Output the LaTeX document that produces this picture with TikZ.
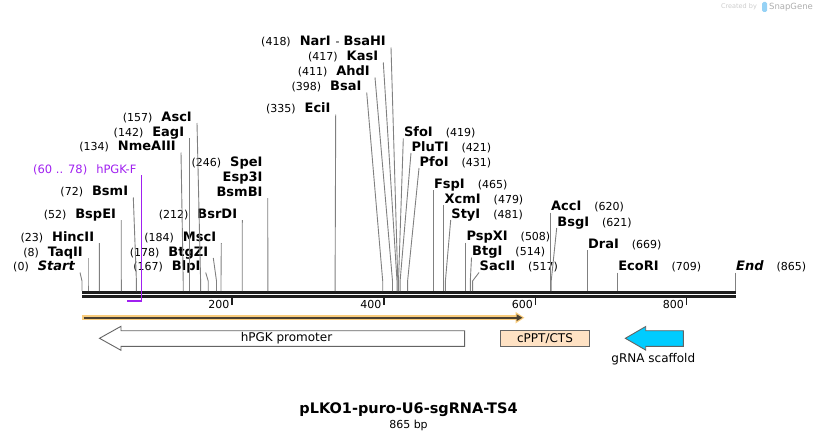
\documentclass[tikz,border=0pt]{standalone}
\usepackage{fontspec}
\setmainfont{DejaVu Sans}
\usetikzlibrary{arrows.meta}

\definecolor{cutgray}{RGB}{128,128,128}
\definecolor{primerpurple}{RGB}{160,32,240}
\definecolor{glow}{RGB}{250,205,125}
\definecolor{orfdark}{RGB}{75,65,50}
\definecolor{cpptfill}{RGB}{255,226,196}
\definecolor{scaffoldfill}{RGB}{0,204,255}
\definecolor{featline}{RGB}{100,100,100}
\definecolor{mapblack}{RGB}{30,30,30}

\newcommand{\nm}[1]{{\fontsize{13}{15}\selectfont\bfseries #1}}

\begin{document}
\begin{tikzpicture}[x=1pt,y=-1pt,
  labl/.style={anchor=south east, inner xsep=5pt, inner ysep=0pt,
    text height=9pt, text depth=1.5pt, font=\fontsize{11}{15}\selectfont},
  labr/.style={anchor=south west, inner xsep=0.5pt, inner ysep=0pt,
    text height=9pt, text depth=1.5pt, font=\fontsize{11}{15}\selectfont},
  cut/.style={draw=cutgray, line width=0.9pt},
  mapline/.style={draw=mapblack, line width=2.7pt},
  tick/.style={draw=mapblack, line width=1.5pt},
  ticklab/.style={anchor=east, inner sep=0pt, font=\fontsize{11}{13}\selectfont},
  feat/.style={draw=featline, line width=0.9pt},
  ftext/.style={inner sep=0pt, font=\fontsize{12}{14}\selectfont}]
\useasboundingbox (0,0) rectangle (818,441);

% watermark
\node[inner sep=0pt, text=black!20, font=\fontsize{6.5}{8}\selectfont] (made) at (739,7) {Created by};
\fill[rounded corners=1.5pt, color={rgb,255:red,150;green,210;blue,245}] (762,2) rectangle (767,12);
\node[inner sep=0pt, text=black!32, font=\fontsize{8.5}{10}\selectfont] (sg) at (791,7) {SnapGene};

% map
\coordinate (mapL) at (82,292.3);
\coordinate (mapR) at (735.7,292.3);
\draw[mapline] (mapL) -- (mapR);
\draw[mapline] ([yshift=-4pt]mapL) -- ([yshift=-4pt]mapR);

% ticks
\coordinate (t200) at (232,297.7);
\coordinate (t400) at (384,297.7);
\coordinate (t600) at (535.5,297.7);
\coordinate (t800) at (686.5,297.7);
\draw[tick] (t200) -- ++(0,7.5);
\draw[tick] (t400) -- ++(0,7.5);
\draw[tick] (t600) -- ++(0,7.5);
\draw[tick] (t800) -- ++(0,7.5);
\node[ticklab] (n200) at (229.5,304.5) {200};
\node[ticklab] (n400) at (381.5,304.5) {400};
\node[ticklab] (n600) at (533,304.5) {600};
\node[ticklab] (n800) at (684,304.5) {800};

% sites, left side
\node[labl] (Start) at (80,272.5) {(0)\hspace{9pt}\nm{\itshape Start}};
\node[labl] (TaqII) at (88,258) {(8)\hspace{9pt}\nm{TaqII}};
\node[labl] (HincII) at (99.3,243) {(23)\hspace{9pt}\nm{HincII}};
\node[labl] (BspEI) at (121.2,220) {(52)\hspace{9pt}\nm{BspEI}};
\node[labl] (BsmI) at (133.3,197.5) {(72)\hspace{9pt}\nm{BsmI}};
\node[labl] (NmeAIII) at (181,152.5) {(134)\hspace{9pt}\nm{NmeAIII}};
\node[labl] (EagI) at (189.3,138) {(142)\hspace{9pt}\nm{EagI}};
\node[labl] (AscI) at (197,123) {(157)\hspace{9pt}\nm{AscI}};
\node[labl] (BlpI) at (205.7,272.5) {(167)\hspace{9pt}\nm{BlpI}};
\node[labl] (BtgZI) at (213.3,258) {(178)\hspace{9pt}\nm{BtgZI}};
\node[labl] (MscI) at (221.3,243) {(184)\hspace{9pt}\nm{MscI}};
\node[labl] (BsrDI) at (242.3,220) {(212)\hspace{9pt}\nm{BsrDI}};
\node[labl] (SpeI) at (267.7,168) {(246)\hspace{9pt}\nm{SpeI}};
\node[labl] (Esp3I) at (267.7,183) {\nm{Esp3I}};
\node[labl] (BsmBI) at (267.7,198) {\nm{BsmBI}};
\node[labl] (EciI) at (335.7,114.5) {(335)\hspace{9pt}\nm{EciI}};
\node[labl] (BsaI) at (366.7,92.5) {(398)\hspace{9pt}\nm{BsaI}};
\node[labl] (AhdI) at (375,77.5) {(411)\hspace{9pt}\nm{AhdI}};
\node[labl] (KasI) at (383.3,62.5) {(417)\hspace{9pt}\nm{KasI}};
\node[labl] (NarI) at (391,47.5) {(418)\hspace{9pt}\nm{NarI}\hspace{5pt}-\hspace{4pt}\nm{BsaHI}};

% sites, right side
\node[labr] (SfoI) at (403.3,138.5) {\nm{SfoI}\hspace{13pt}(419)};
\node[labr] (PluTI) at (411,153) {\nm{PluTI}\hspace{13pt}(421)};
\node[labr] (PfoI) at (419,168) {\nm{PfoI}\hspace{13pt}(431)};
\node[labr] (FspI) at (433.3,190) {\nm{FspI}\hspace{13pt}(465)};
\node[labr] (XcmI) at (443.9,205) {\nm{XcmI}\hspace{13pt}(479)};
\node[labr] (StyI) at (450.7,220) {\nm{StyI}\hspace{13pt}(481)};
\node[labr] (PspXI) at (465.8,242.5) {\nm{PspXI}\hspace{13pt}(508)};
\node[labr] (BtgI) at (471.5,257.5) {\nm{BtgI}\hspace{13pt}(514)};
\node[labr] (SacII) at (479,272.5) {\nm{SacII}\hspace{13pt}(517)};
\node[labr] (AccI) at (550.4,212.5) {\nm{AccI}\hspace{13pt}(620)};
\node[labr] (BsgI) at (556.7,228) {\nm{BsgI}\hspace{13pt}(621)};
\node[labr] (DraI) at (587.4,250) {\nm{DraI}\hspace{13pt}(669)};
\node[labr] (EcoRI) at (617.6,272.5) {\nm{EcoRI}\hspace{13pt}(709)};
\node[labr] (End) at (735.5,272.5) {\nm{\itshape End}\hspace{13pt}(865)};

% cut positions on the map
\coordinate (Start-m) at (82,291);
\coordinate (TaqII-m) at (88,291);
\coordinate (HincII-m) at (99.4,291);
\coordinate (BspEI-m) at (121.3,291);
\coordinate (BsmI-m) at (136.4,291);
\coordinate (NmeAIII-m) at (183.2,291);
\coordinate (EagI-m) at (189.3,291);
\coordinate (AscI-m) at (200.6,291);
\coordinate (BlpI-m) at (208.2,291);
\coordinate (BtgZI-m) at (216.5,291);
\coordinate (MscI-m) at (221,291);
\coordinate (BsrDI-m) at (242.2,291);
\coordinate (BsmBI-m) at (267.9,291);
\coordinate (EciI-m) at (335.1,291);
\coordinate (BsaI-m) at (382.7,291);
\coordinate (AhdI-m) at (392.5,291);
\coordinate (KasI-m) at (397,291);
\coordinate (NarI-m) at (397.8,291);
\coordinate (SfoI-m) at (398.5,291);
\coordinate (PluTI-m) at (400.1,291);
\coordinate (PfoI-m) at (407.6,291);
\coordinate (FspI-m) at (433.3,291);
\coordinate (XcmI-m) at (443.9,291);
\coordinate (StyI-m) at (445.4,291);
\coordinate (PspXI-m) at (465.8,291);
\coordinate (BtgI-m) at (470.3,291);
\coordinate (SacII-m) at (472.6,291);
\coordinate (AccI-m) at (550.4,291);
\coordinate (BsgI-m) at (551.2,291);
\coordinate (DraI-m) at (587.4,291);
\coordinate (EcoRI-m) at (617.6,291);
\coordinate (End-m) at (735.5,291);

\draw[cut] (Start.south east) -- ([yshift=10pt]Start-m) -- (Start-m);
\draw[cut] (TaqII.south east) -- ([yshift=10pt]TaqII-m) -- (TaqII-m);
\draw[cut] (HincII.south east) -- ([yshift=10pt]HincII-m) -- (HincII-m);
\draw[cut] (BspEI.south east) -- ([yshift=10pt]BspEI-m) -- (BspEI-m);
\draw[cut] (BsmI.south east) -- ([yshift=10pt]BsmI-m) -- (BsmI-m);
\draw[cut] (NmeAIII.south east) -- ([yshift=10pt]NmeAIII-m) -- (NmeAIII-m);
\draw[cut] (EagI.south east) -- ([yshift=10pt]EagI-m) -- (EagI-m);
\draw[cut] (AscI.south east) -- ([yshift=10pt]AscI-m) -- (AscI-m);
\draw[cut] (BlpI.south east) -- ([yshift=10pt]BlpI-m) -- (BlpI-m);
\draw[cut] (BtgZI.south east) -- ([yshift=10pt]BtgZI-m) -- (BtgZI-m);
\draw[cut] (MscI.south east) -- ([yshift=10pt]MscI-m) -- (MscI-m);
\draw[cut] (BsrDI.south east) -- ([yshift=10pt]BsrDI-m) -- (BsrDI-m);
\draw[cut] (BsmBI.south east) -- ([yshift=10pt]BsmBI-m) -- (BsmBI-m);
\draw[cut] (EciI.south east) -- ([yshift=10pt]EciI-m) -- (EciI-m);
\draw[cut] (BsaI.south east) -- ([yshift=10pt]BsaI-m) -- (BsaI-m);
\draw[cut] (AhdI.south east) -- ([yshift=10pt]AhdI-m) -- (AhdI-m);
\draw[cut] (KasI.south east) -- ([yshift=10pt]KasI-m) -- (KasI-m);
\draw[cut] (NarI.south east) -- ([yshift=10pt]NarI-m) -- (NarI-m);
\draw[cut] (SfoI.south west) -- ([yshift=10pt]SfoI-m) -- (SfoI-m);
\draw[cut] (PluTI.south west) -- ([yshift=10pt]PluTI-m) -- (PluTI-m);
\draw[cut] (PfoI.south west) -- ([yshift=10pt]PfoI-m) -- (PfoI-m);
\draw[cut] (FspI.south west) -- ([yshift=10pt]FspI-m) -- (FspI-m);
\draw[cut] (XcmI.south west) -- ([yshift=10pt]XcmI-m) -- (XcmI-m);
\draw[cut] (StyI.south west) -- ([yshift=10pt]StyI-m) -- (StyI-m);
\draw[cut] (PspXI.south west) -- ([yshift=10pt]PspXI-m) -- (PspXI-m);
\draw[cut] (BtgI.south west) -- ([yshift=10pt]BtgI-m) -- (BtgI-m);
\draw[cut] (SacII.south west) -- ([yshift=10pt]SacII-m) -- (SacII-m);
\draw[cut] (AccI.south west) -- ([yshift=10pt]AccI-m) -- (AccI-m);
\draw[cut] (BsgI.south west) -- ([yshift=10pt]BsgI-m) -- (BsgI-m);
\draw[cut] (DraI.south west) -- ([yshift=10pt]DraI-m) -- (DraI-m);
\draw[cut] (EcoRI.south west) -- ([yshift=10pt]EcoRI-m) -- (EcoRI-m);
\draw[cut] (End.south west) -- ([yshift=10pt]End-m) -- (End-m);

% primer
\node[labl, text=primerpurple, font=\fontsize{11.5}{15}\selectfont] (hPGKF) at (141.7,175) {(60 .. 78)\hspace{9pt}hPGK-F};
\coordinate (pF-a) at (127.3,300.7);
\coordinate (pF-b) at (141.7,300.7);
\draw[primerpurple, line width=1.3pt] (hPGKF.south east) -- ([yshift=-1pt]pF-b);
\draw[primerpurple, line width=2pt] (pF-a) -- (pF-b);

% features
\coordinate (orfL) at (82,317.7);
\coordinate (orfR) at (524.5,317.7);
\draw[glow, line width=5.5pt, -{Triangle[length=9pt,width=11pt]}] (orfL) -- (orfR);
\draw[orfdark, line width=2pt, -{Triangle[length=6pt,width=6.5pt]}] ([xshift=1.5pt]orfL) -- ([xshift=-2pt]orfR);

\draw[feat, fill=white] (99.5,338.3) -- (121,326.3) -- (121,330.7) -- (464.6,330.7)
  -- (464.6,346.3) -- (121,346.3) -- (121,350.3) -- cycle;
\node[ftext] (hpgk) at (286.5,338.5) {hPGK promoter};

\node[feat, fill=cpptfill, minimum width=88.6pt, minimum height=15.6pt, ftext] (cppt) at (545,338.5) {cPPT/CTS};

\draw[feat, fill=scaffoldfill] (625.3,338.3) -- (645.7,326.5) -- (645.7,330.7) -- (683.3,330.7)
  -- (683.3,346.3) -- (645.7,346.3) -- (645.7,350.1) -- cycle;
\node[ftext] (grna) at (653.3,359.5) {gRNA scaffold};

% title
\node[inner sep=0pt, font=\fontsize{14.5}{17}\selectfont\bfseries] (title) at (408.5,410) {pLKO1-puro-U6-sgRNA-TS4};
\node[inner sep=0pt, font=\fontsize{11}{13}\selectfont] (size) at (408.5,425) {865 bp};
\end{tikzpicture}
\end{document}
